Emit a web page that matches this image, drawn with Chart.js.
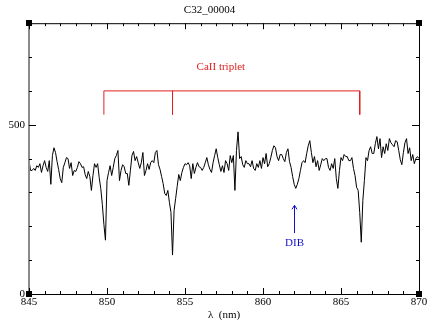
<!DOCTYPE html>
<html>
<head>
<meta charset="utf-8">
<script src="https://cdn.jsdelivr.net/npm/chart.js@4.4.1/dist/chart.umd.min.js"></script>
<style>
  body { margin: 0; background: #fff; }
  #wrap { width: 436px; height: 328px; }
</style>
</head>
<body>
<div id="wrap"><canvas id="myChart" width="436" height="328"></canvas></div>
<script>
// spectrum sampling (nm) and flux
const lambdaStart = 845;
const lambdaStep = 0.1;
const flux = [
  394, 365, 365, 371, 365, 379, 374, 385, 359, 379, 394, 374, 362, 394, 324, 409, 432, 418, 391, 368,
  341, 329, 374, 388, 403, 400, 371, 388, 350, 365, 362, 374, 391, 385, 374, 376, 353, 341, 362, 347,
  306, 350, 385, 374, 385, 344, 312, 265, 206, 159, 335, 359, 379, 350, 374, 400, 409, 424, 335, 365,
  382, 376, 356, 356, 321, 365, 409, 421, 394, 406, 388, 371, 388, 418, 350, 365, 385, 368, 388, 394,
  388, 418, 424, 382, 368, 347, 326, 297, 291, 306, 271, 241, 115, 247, 282, 318, 353, 335, 359, 374,
  385, 382, 388, 379, 341, 385, 356, 374, 388, 376, 374, 365, 374, 388, 403, 382, 368, 359, 388, 409,
  429, 403, 382, 362, 379, 359, 394, 385, 365, 409, 388, 409, 306, 424, 479, 400, 406, 382, 374, 394,
  385, 385, 376, 394, 371, 365, 385, 374, 394, 371, 403, 385, 415, 376, 385, 403, 424, 438, 432, 406,
  394, 412, 412, 400, 391, 418, 429, 391, 374, 347, 324, 312, 324, 341, 365, 388, 394, 388, 415, 438,
  453, 418, 388, 406, 376, 394, 365, 382, 400, 394, 400, 400, 374, 365, 385, 371, 400, 341, 312, 365,
  403, 394, 412, 406, 406, 394, 394, 403, 371, 350, 315, 306, 241, 153, 276, 335, 403, 394, 424, 435,
  415, 415, 444, 465, 429, 459, 403, 435, 415, 444, 424, 459, 447, 441, 435, 453, 450, 424, 397, 382,
  418, 447, 459, 415, 432, 394, 412, 385, 400, 406, 400
];

// Ca II triplet lines and the DIB
const caLines = [849.8, 854.2, 866.2];
const dibLambda = 862.0;

const xTicks = [845, 850, 855, 860, 865, 870];
const yTicks = [0, 500];

const serif = "'Liberation Serif', 'DejaVu Serif', serif";

const spectrum = flux.map((f, i) => ({ x: +(lambdaStart + i * lambdaStep).toFixed(2), y: f }));

const bracketOuter = [
  { x: caLines[0], y: 530 }, { x: caLines[0], y: 600 },
  { x: caLines[2], y: 600 }, { x: caLines[2], y: 530 }
];
const bracketMid = [{ x: caLines[1], y: 600 }, { x: caLines[1], y: 530 }];

// frame, inward ticks, corner squares and text labels
const framePlugin = {
  id: 'frame',
  afterDraw(chart) {
    const ctx = chart.ctx;
    const a = chart.chartArea;
    const xs = chart.scales.x, ys = chart.scales.y;
    ctx.save();

    // axes box
    ctx.lineWidth = 1;
    ctx.strokeStyle = '#000';
    ctx.beginPath();
    ctx.moveTo(a.left, a.top + 0.5); ctx.lineTo(a.right, a.top + 0.5);
    ctx.moveTo(a.left, a.bottom + 0.5); ctx.lineTo(a.right, a.bottom + 0.5);
    ctx.moveTo(a.right + 0.5, a.top); ctx.lineTo(a.right + 0.5, a.bottom);
    ctx.stroke();
    ctx.strokeStyle = '#8a8a8a';
    ctx.lineWidth = 2;
    ctx.beginPath();
    ctx.moveTo(a.left, a.top); ctx.lineTo(a.left, a.bottom);
    ctx.stroke();

    // x ticks top and bottom, y ticks left and right
    ctx.strokeStyle = '#000';
    ctx.lineWidth = 1;
    ctx.beginPath();
    for (let v = 845; v <= 870; v++) {
      const px = Math.round(xs.getPixelForValue(v)) + 0.5;
      const len = v % 5 === 0 ? 6 : 3;
      ctx.moveTo(px, a.bottom); ctx.lineTo(px, a.bottom - len);
      ctx.moveTo(px, a.top); ctx.lineTo(px, a.top + len);
    }
    for (let v = 0; v <= 800; v += 100) {
      const py = Math.round(ys.getPixelForValue(v)) + 0.5;
      const len = v % 500 === 0 ? 7 : 3;
      ctx.moveTo(a.left, py); ctx.lineTo(a.left + len, py);
      ctx.moveTo(a.right, py); ctx.lineTo(a.right - len, py);
    }
    ctx.stroke();

    // corner squares
    ctx.fillStyle = '#000';
    [[a.left, a.top], [a.right, a.top], [a.left, a.bottom], [a.right, a.bottom]].forEach(c => {
      ctx.fillRect(Math.round(c[0]) - 3, Math.round(c[1]) - 3, 6, 6);
    });

    // CaII label
    ctx.font = '11px ' + serif;
    ctx.textAlign = 'center';
    ctx.textBaseline = 'middle';
    ctx.fillStyle = '#e02020';
    ctx.fillText('CaII triplet', xs.getPixelForValue(857.3), ys.getPixelForValue(671));

    // DIB arrow and label
    const dx = Math.round(xs.getPixelForValue(dibLambda)) + 0.5;
    const yTop = ys.getPixelForValue(262), yBot = ys.getPixelForValue(180);
    ctx.strokeStyle = '#1010c0';
    ctx.lineWidth = 1;
    ctx.beginPath();
    ctx.moveTo(dx, yBot); ctx.lineTo(dx, yTop);
    ctx.moveTo(dx - 2.5, yTop + 4); ctx.lineTo(dx, yTop); ctx.lineTo(dx + 2.5, yTop + 4);
    ctx.stroke();
    ctx.fillStyle = '#1010c0';
    ctx.fillText('DIB', dx, ys.getPixelForValue(150));

    ctx.restore();
  }
};

const ctx = document.getElementById('myChart').getContext('2d');
const myChart = new Chart(ctx, {
  type: 'line',
  data: {
    datasets: [
      { data: spectrum, borderColor: '#000', borderWidth: 1, pointRadius: 0, tension: 0 },
      { data: bracketOuter, borderColor: '#e02020', borderWidth: 1, pointRadius: 0, tension: 0 },
      { data: bracketMid, borderColor: '#e02020', borderWidth: 1, pointRadius: 0, tension: 0 }
    ]
  },
  options: {
    responsive: false,
    animation: false,
    devicePixelRatio: 1,
    layout: { padding: { left: 0, right: 17, top: 0, bottom: 0 } },
    plugins: {
      legend: { display: false },
      tooltip: { enabled: false },
      title: {
        display: true,
        text: 'C32_00004',
        color: '#000',
        font: { family: serif, size: 11, weight: 'normal' },
        padding: { top: 4, bottom: 6 }
      }
    },
    scales: {
      x: {
        type: 'linear',
        min: 845,
        max: 870,
        grid: { display: false, drawTicks: false },
        border: { display: false },
        afterBuildTicks: s => { s.ticks = xTicks.map(v => ({ value: v })); },
        afterFit: s => { s.height = 34; },
        ticks: { color: '#000', font: { family: serif, size: 11 }, padding: 2, maxRotation: 0 },
        title: {
          display: true,
          text: 'λ  (nm)',
          color: '#000',
          font: { family: serif, size: 11 },
          padding: { top: 0, bottom: 6 }
        }
      },
      y: {
        min: 0,
        max: 800,
        grid: { display: false, drawTicks: false },
        border: { display: false },
        afterBuildTicks: s => { s.ticks = yTicks.map(v => ({ value: v })); },
        afterFit: s => { s.width = 29; },
        ticks: { color: '#000', font: { family: serif, size: 11 }, padding: 4 }
      }
    }
  },
  plugins: [framePlugin]
});
</script>
</body>
</html>
